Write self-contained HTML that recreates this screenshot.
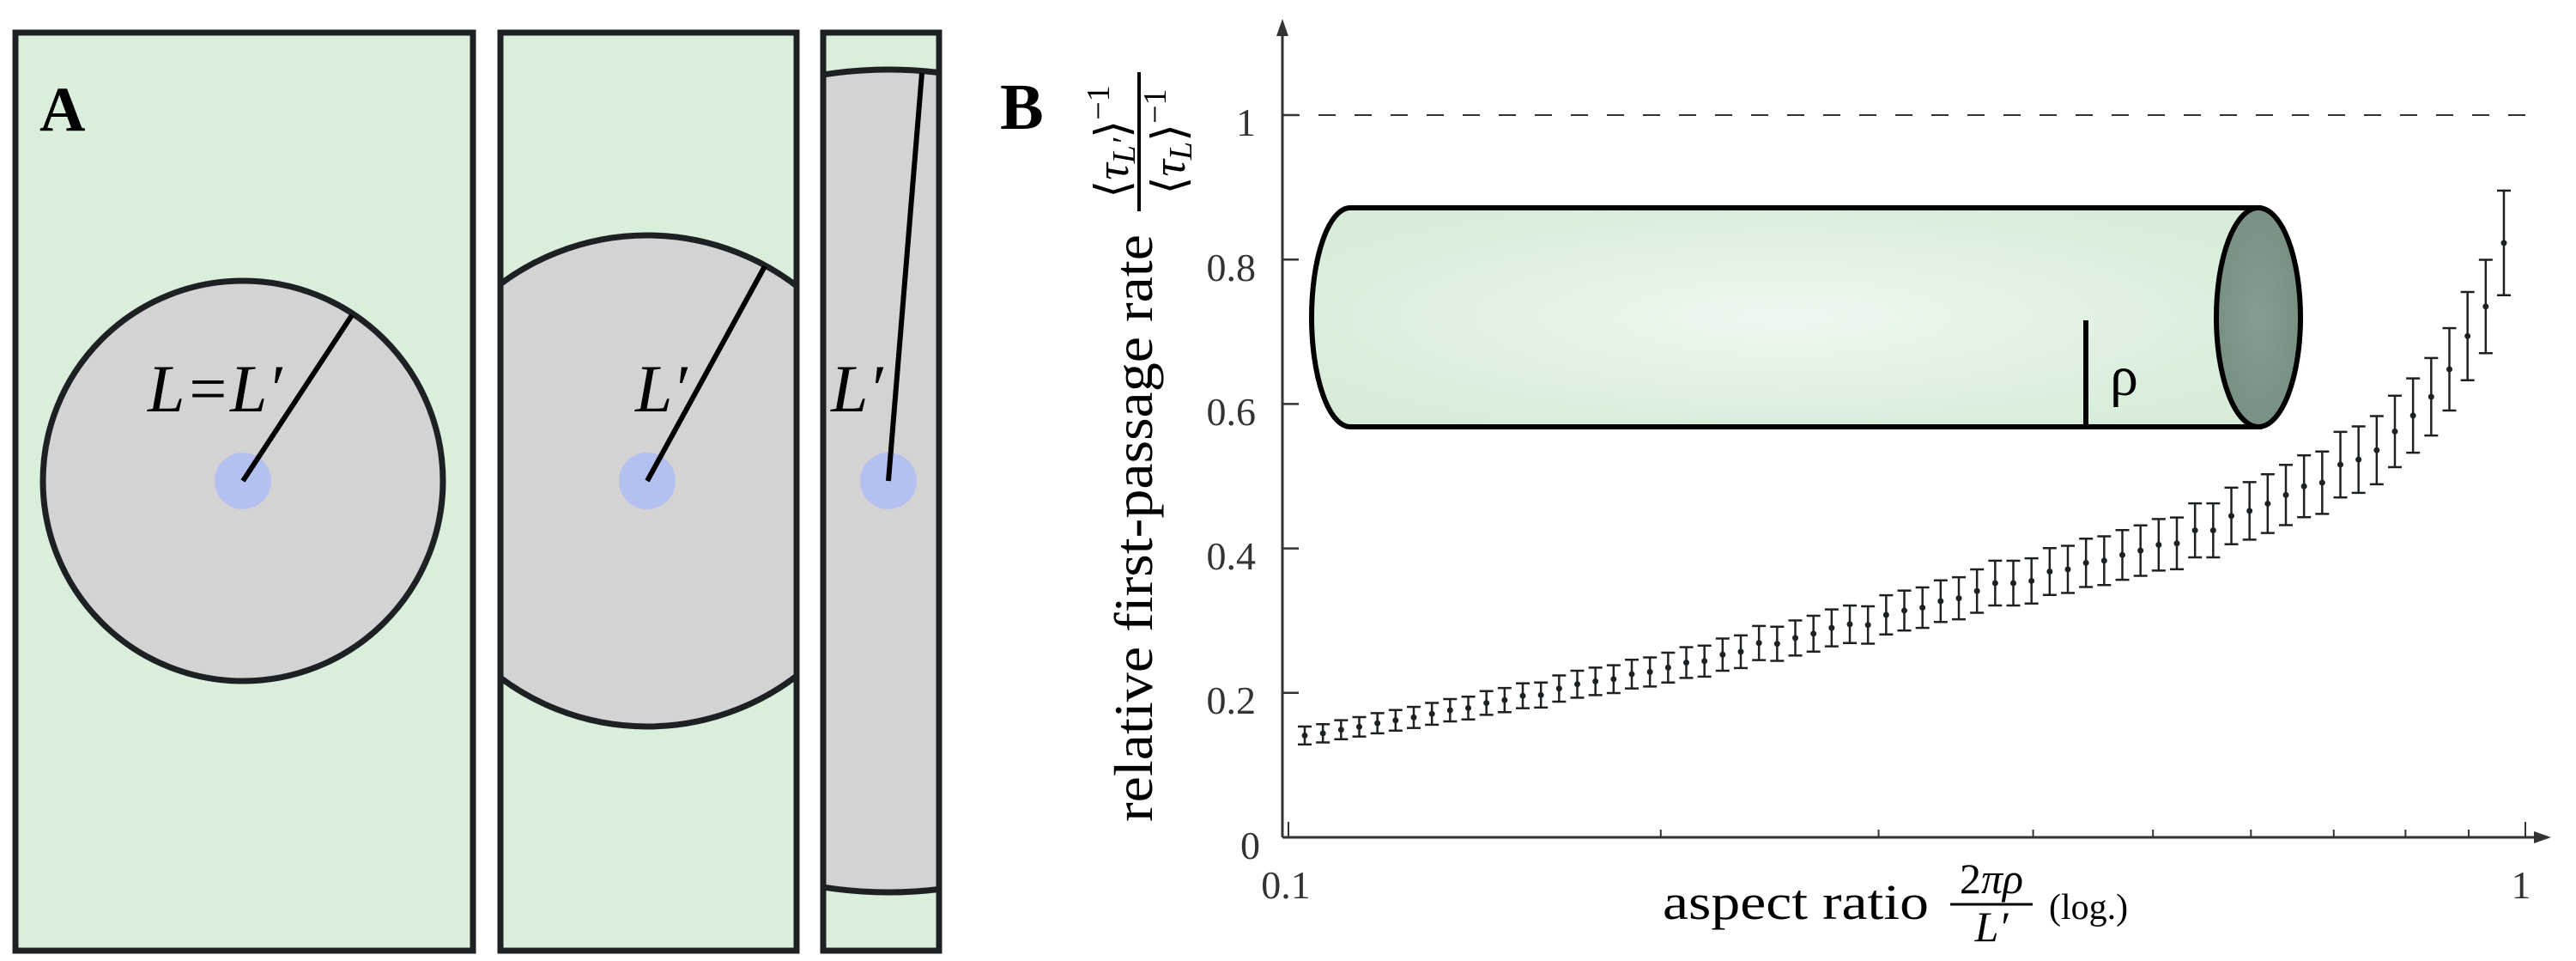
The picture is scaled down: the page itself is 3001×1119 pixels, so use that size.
<!DOCTYPE html>
<html><head><meta charset="utf-8"><style>html,body{margin:0;padding:0;background:#fff}svg{display:block}</style></head>
<body>
<svg id="s" width="3001" height="1119" viewBox="0 0 3001 1119" xmlns="http://www.w3.org/2000/svg" font-family="'Liberation Serif', serif">
<defs>
<clipPath id="c1"><rect x="18" y="38" width="533" height="1069"/></clipPath>
<clipPath id="c2"><rect x="583" y="38" width="345" height="1069"/></clipPath>
<clipPath id="c3"><rect x="959" y="38" width="135" height="1069"/></clipPath>
<radialGradient id="g1" cx="0.5" cy="0.5" r="0.6">
<stop offset="0" stop-color="#eef8ef"/><stop offset="1" stop-color="#d6ecd8"/></radialGradient>
<radialGradient id="g2" cx="0.5" cy="0.5" r="0.6"><stop offset="0" stop-color="#869d90"/><stop offset="1" stop-color="#768e80"/></radialGradient>
</defs>
<!-- Panel A -->
<rect x="18" y="38" width="533" height="1069" fill="#d9eedb"/>
<circle cx="283" cy="560" r="233" fill="#d3d3d3" stroke="#1e2124" stroke-width="7" clip-path="url(#c1)"/>
<rect x="18" y="38" width="533" height="1069" fill="none" stroke="#1e2124" stroke-width="7"/>
<circle cx="283" cy="560" r="33" fill="#b4c0f0"/>
<line x1="283" y1="560" x2="410" y2="367" stroke="#000" stroke-width="6"/>
<text x="46" y="152" font-size="74" font-weight="bold">A</text>
<text x="172" y="479" font-size="78" font-style="italic">L=L′</text>

<rect x="583" y="38" width="345" height="1069" fill="#d9eedb"/>
<circle cx="754" cy="560" r="286" fill="#d3d3d3" stroke="#1e2124" stroke-width="7" clip-path="url(#c2)"/>
<rect x="583" y="38" width="345" height="1069" fill="none" stroke="#1e2124" stroke-width="7"/>
<circle cx="754" cy="560" r="33" fill="#b4c0f0"/>
<line x1="754" y1="560" x2="891" y2="310" stroke="#000" stroke-width="6"/>
<text x="740" y="479" font-size="78" font-style="italic">L′</text>

<rect x="959" y="38" width="135" height="1069" fill="#d9eedb"/>
<circle cx="1035" cy="560" r="479" fill="#d3d3d3" stroke="#1e2124" stroke-width="7" clip-path="url(#c3)"/>
<rect x="959" y="38" width="135" height="1069" fill="none" stroke="#1e2124" stroke-width="7"/>
<circle cx="1035" cy="560" r="33" fill="#b4c0f0"/>
<line x1="1035" y1="560" x2="1074" y2="85" stroke="#000" stroke-width="6"/>
<text x="968" y="479" font-size="78" font-style="italic">L′</text>

<!-- Panel B -->
<text x="1165" y="150" font-size="76" font-weight="bold">B</text>
<line x1="1494" y1="975" x2="1494" y2="40" stroke="#333" stroke-width="3"/>
<polygon points="1494,22 1487,42 1501,42" fill="#333"/>
<line x1="1494" y1="975" x2="2955" y2="975" stroke="#333" stroke-width="3"/>
<polygon points="2972,975 2952,968 2952,982" fill="#333"/>
<line x1="1494" y1="134" x2="2960" y2="134" stroke="#333" stroke-width="2" stroke-dasharray="20,22"/>
<g stroke="#333" stroke-width="2.5">
<line x1="1494" y1="134" x2="1513" y2="134"/>
<line x1="1494" y1="302.2" x2="1513" y2="302.2"/>
<line x1="1494" y1="470.4" x2="1513" y2="470.4"/>
<line x1="1494" y1="638.6" x2="1513" y2="638.6"/>
<line x1="1494" y1="806.8" x2="1513" y2="806.8"/>
</g>
<g fill="#333" font-size="46" text-anchor="end">
<text x="1463" y="158">1</text>
<text x="1463" y="327">0.8</text>
<text x="1463" y="495">0.6</text>
<text x="1463" y="663">0.4</text>
<text x="1463" y="831">0.2</text>
<text x="1468" y="1000">0</text>
</g>
<g fill="#333" font-size="46" text-anchor="middle">
<text x="1498" y="1046">0.1</text>
<text x="2937" y="1046">1</text>
</g>
<g id="xt" stroke="#333" stroke-width="2"></g>
<text x="1937" y="1070" font-size="58" textLength="310" lengthAdjust="spacingAndGlyphs">aspect ratio</text>
<text x="2320" y="1040" font-size="50" text-anchor="middle">2<tspan font-style="italic">πρ</tspan></text>
<line x1="2272" y1="1053" x2="2368" y2="1053" stroke="#000" stroke-width="3"/>
<text x="2320" y="1096" font-size="50" text-anchor="middle" font-style="italic">L′</text>
<text x="2387" y="1070" font-size="42">(log.)</text>

<g transform="translate(1342,957) rotate(-90)"><text x="0" y="0" font-size="64" textLength="684" lengthAdjust="spacingAndGlyphs">relative first-passage rate</text></g>
<line x1="1327" y1="84" x2="1327" y2="246" stroke="#000" stroke-width="4"/>
<g transform="translate(1314,165) rotate(-90)"><text x="0" y="0" font-size="54" text-anchor="middle">⟨<tspan font-style="italic">τ</tspan><tspan font-style="italic" font-size="38" dy="8">L′</tspan><tspan dy="-8">⟩</tspan><tspan font-size="38" dy="-22">−1</tspan></text></g>
<g transform="translate(1380,165) rotate(-90)"><text x="0" y="0" font-size="54" text-anchor="middle">⟨<tspan font-style="italic">τ</tspan><tspan font-style="italic" font-size="38" dy="8">L</tspan><tspan dy="-8">⟩</tspan><tspan font-size="38" dy="-22">−1</tspan></text></g>

<!-- cylinder -->
<path d="M1573,242 L2632,242 L2632,497 L1573,497 A45,127.5 0 0 1 1573,242 Z" fill="url(#g1)" stroke="#000" stroke-width="6"/>
<ellipse cx="2631" cy="369.5" rx="49" ry="127.5" fill="url(#g2)" stroke="#000" stroke-width="6"/>
<line x1="2430" y1="373" x2="2430" y2="494" stroke="#000" stroke-width="6"/>
<text x="2458" y="460" font-size="66" font-family="'Liberation Serif', serif">ρ</text>
<g id="pts" stroke="#1e2124" stroke-width="2.5" fill="#1e2124"></g>
</svg>
<script>
var NS="http://www.w3.org/2000/svg";
function el(p,t,a){var e=document.createElementNS(NS,t);for(var k in a)e.setAttribute(k,a[k]);p.appendChild(e);return e;}
var xt=document.getElementById('xt');
for(var a=1;a<=10;a++){var x=1501+1441*Math.log10(a);var h=(a==1||a==10)?18:9;el(xt,'line',{x1:x,y1:975,x2:x,y2:975-h});}
var v=[0.141,0.144,0.149,0.153,0.158,0.162,0.166,0.171,0.176,0.179,0.186,0.190,0.196,0.197,0.206,0.212,0.216,0.219,0.226,0.229,0.235,0.242,0.244,0.253,0.257,0.269,0.268,0.276,0.282,0.290,0.295,0.294,
0.308,0.314,0.318,0.327,0.331,0.341,0.352,0.352,0.355,0.368,0.371,0.380,0.383,0.391,0.397,0.405,0.407,0.425,0.425,0.445,0.452,0.462,
0.474,0.486,0.491,0.516,0.523,0.536,0.562,0.584,0.610,0.648,0.694,0.735,0.823];
var g=document.getElementById('pts');var n=v.length;
for(var i=0;i<n;i++){var x=1520+(2917-1520)*i/(n-1);var y=975-v[i]*841;var hw=0.088*v[i]*841;
el(g,'line',{x1:x,y1:y-hw,x2:x,y2:y+hw});el(g,'line',{x1:x-8,y1:y-hw,x2:x+8,y2:y-hw});el(g,'line',{x1:x-8,y1:y+hw,x2:x+8,y2:y+hw});
el(g,'circle',{cx:x,cy:y,r:3.5,stroke:'none'});}
</script>
</body></html>
